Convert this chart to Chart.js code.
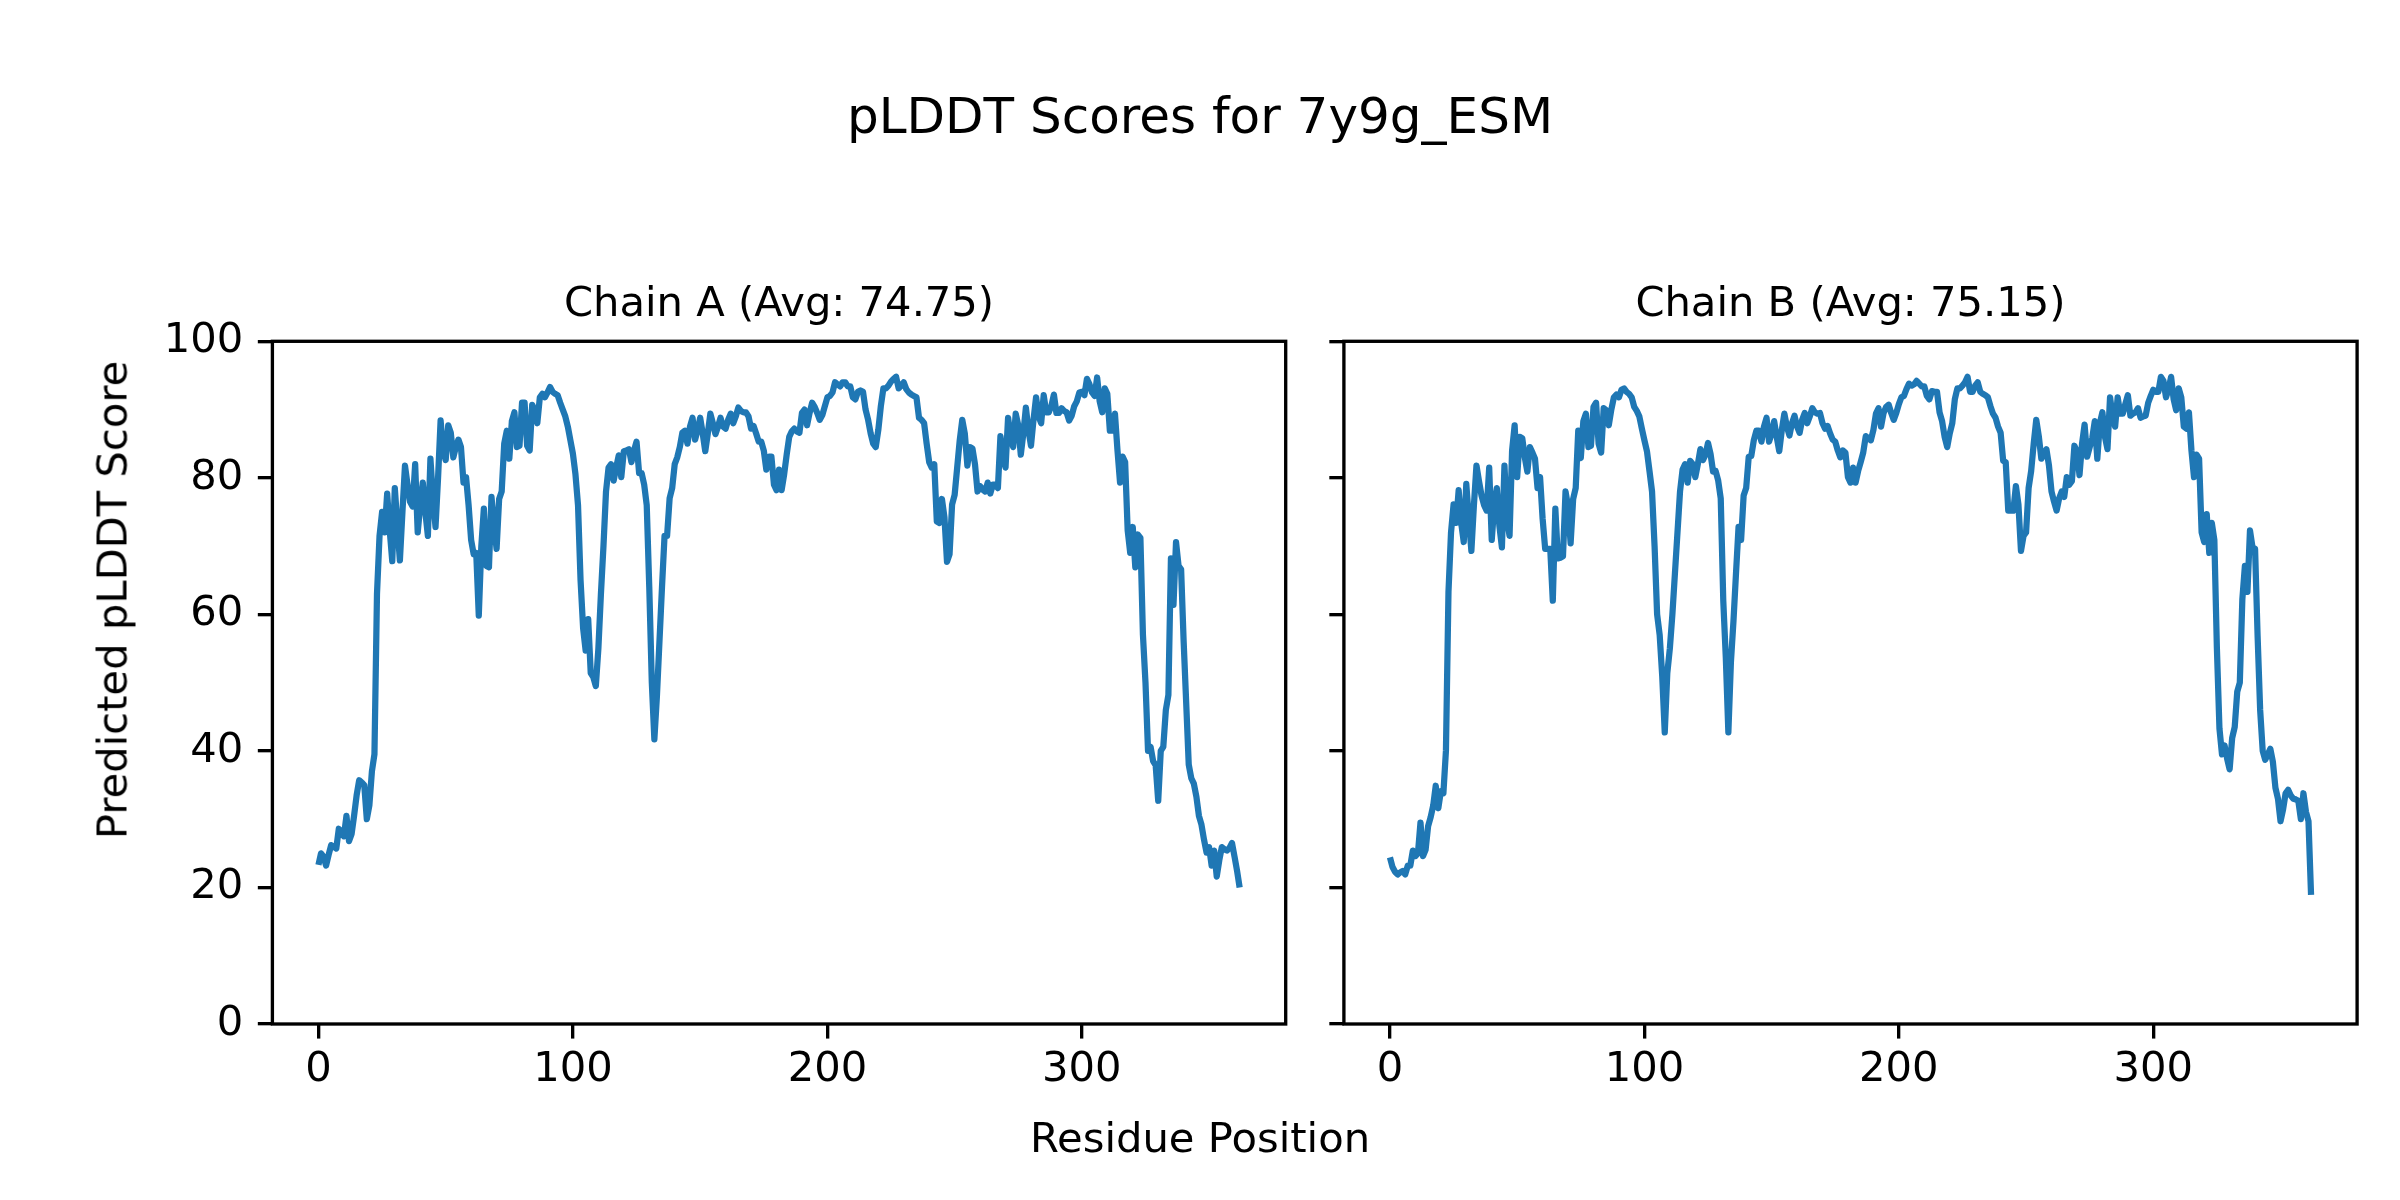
<!DOCTYPE html>
<html>
<head>
<meta charset="utf-8">
<script src="https://cdn.jsdelivr.net/npm/chart.js@4.4.1/dist/chart.umd.min.js"></script>
<style>
  html, body { margin: 0; padding: 0; background: #fff; }
  #fig { position: relative; width: 2400px; height: 1200px; overflow: hidden; font-family: "DejaVu Sans", sans-serif; color: #000; }
  #fig canvas { position: absolute; left: 0; top: 0; }
  .txt { position: absolute; white-space: nowrap; transform: translate(-50%, -50%); }
</style>
</head>
<body>
<div id="fig">
  <canvas id="chartA" width="2400" height="1200"></canvas>
  <canvas id="chartB" width="2400" height="1200"></canvas>
  <div class="txt" style="left:1200px;top:116px;font-size:50px;">pLDDT Scores for 7y9g_ESM</div>
  <div class="txt" style="left:1200px;top:1137px;font-size:41.7px;">Residue Position</div>
  <div class="txt" style="left:112px;top:600px;font-size:41.7px;transform:translate(-50%,-50%) rotate(-90deg);">Predicted pLDDT Score</div>
</div>
<script>
// values, one per residue (0..362)
const chainNames = ['Chain A', 'Chain B'];
const chainAverages = ['74.75', '75.15'];
const xTicks = [0, 100, 200, 300];
const yTicks = [0, 20, 40, 60, 80, 100];

const chainAScores = [
  23.3, 25.0, 24.5, 23.2, 24.8, 26.2, 26.0, 25.7, 28.6, 28.1,
  27.5, 30.5, 26.8, 27.8, 30.5, 33.5, 35.7, 35.4, 35.0, 30.0,
  32.0, 37.0, 39.5, 63.0, 71.5, 75.0, 72.0, 77.7, 72.3, 67.8,
  78.5, 73.1, 67.9, 75.0, 81.8, 79.0, 76.5, 75.8, 82.0, 72.0,
  76.0, 79.3, 75.0, 71.5, 82.8, 77.0, 72.8, 80.0, 88.4, 84.0,
  82.6, 87.7, 86.6, 83.0, 84.5, 85.6, 84.5, 79.3, 80.1, 76.0,
  70.9, 68.8, 69.0, 59.8, 70.0, 75.5, 67.1, 66.9, 77.2, 73.0,
  69.6, 76.9, 78.0, 85.0, 86.9, 82.8, 88.3, 89.6, 84.5, 84.7,
  91.0, 91.0, 84.7, 84.0, 90.7, 89.9, 88.0, 91.8, 92.3, 91.8,
  92.5, 93.3, 92.6, 92.3, 92.1, 91.0, 90.0, 89.0, 87.5, 85.5,
  83.5, 80.5, 76.0, 65.0, 58.0, 54.7, 59.3, 51.4, 50.8, 49.5,
  55.0, 63.0, 70.0, 78.0, 81.5, 82.0, 79.6, 81.5, 83.3, 80.1,
  83.9, 84.0, 84.2, 82.3, 84.0, 85.3, 80.7, 80.7, 79.0, 76.0,
  64.0, 50.0, 41.7, 48.0, 56.0, 64.0, 71.5, 71.5, 77.0, 78.5,
  82.0, 83.0, 84.5, 86.6, 86.9, 85.0, 87.5, 88.8, 85.6, 87.0,
  88.8, 86.5, 83.9, 86.5, 89.4, 88.0, 86.4, 87.5, 88.8, 87.5,
  87.2, 88.5, 89.4, 88.0, 89.0, 90.3, 89.8, 89.6, 89.6, 89.0,
  87.2, 87.6, 86.5, 85.3, 85.3, 84.0, 81.2, 83.1, 83.1, 79.0,
  78.2, 81.2, 78.2, 80.5, 83.4, 86.0, 86.8, 87.2, 86.8, 86.6,
  89.5, 90.0, 87.7, 89.5, 91.0, 90.4, 89.5, 88.5, 89.2, 90.5,
  91.8, 92.0, 92.5, 94.0, 93.7, 93.4, 94.0, 94.0, 93.4, 93.4,
  91.8, 91.5, 92.6, 92.8, 92.6, 90.0, 88.5, 86.5, 85.0, 84.5,
  87.0, 90.5, 93.1, 93.1, 93.5, 94.1, 94.5, 94.8, 93.1, 93.5,
  94.0, 93.0, 92.5, 92.2, 92.0, 91.8, 88.8, 88.5, 88.0, 85.0,
  82.3, 81.5, 82.0, 73.6, 73.4, 76.9, 74.2, 67.7, 68.8, 76.1,
  77.5, 81.5, 85.5, 88.5, 86.5, 81.8, 84.5, 84.3, 82.0, 78.0,
  78.8, 78.3, 78.0, 79.3, 77.7, 79.0, 79.0, 78.5, 86.1, 83.0,
  81.5, 88.8, 86.0, 84.5, 89.4, 87.7, 83.4, 86.5, 90.3, 87.0,
  84.7, 88.5, 91.8, 89.0, 88.0, 92.1, 89.6, 89.6, 90.5, 92.2,
  89.5, 89.5, 90.2, 89.8, 89.6, 88.4, 89.1, 90.5, 91.2, 92.5,
  92.6, 92.1, 94.5, 93.7, 92.5, 92.0, 94.7, 91.2, 89.6, 93.1,
  92.3, 86.9, 86.9, 89.4, 84.0, 79.3, 83.1, 82.3, 72.3, 69.0,
  72.8, 66.9, 71.7, 71.2, 57.0, 50.0, 40.0, 40.6, 38.5, 37.9,
  32.7, 40.0, 40.6, 46.0, 48.2, 68.2, 61.4, 70.6, 67.1, 66.6,
  56.0, 47.0, 38.0, 36.0, 35.2, 33.3, 30.5, 29.2, 27.0, 25.1,
  25.9, 23.2, 25.4, 21.6, 24.0, 25.9, 25.6, 25.4, 25.8, 26.5,
  24.5, 22.4, 20.0
];

const chainBScores = [
  24.4, 23.0, 22.3, 21.9, 22.2, 22.4, 21.9, 23.2, 23.2, 25.4,
  24.6, 25.0, 29.5, 24.6, 25.5, 29.0, 30.3, 32.0, 34.9, 31.6,
  34.1, 33.8, 40.0, 63.3, 72.0, 76.1, 73.4, 78.2, 73.4, 70.6,
  79.1, 74.0, 69.3, 76.0, 81.8, 79.5, 77.4, 76.0, 75.2, 81.5,
  70.9, 76.0, 78.5, 73.0, 69.8, 81.8, 74.0, 71.5, 84.0, 87.7,
  80.1, 86.0, 85.8, 83.0, 80.9, 84.5, 83.7, 82.8, 78.5, 80.1,
  74.0, 69.6, 69.6, 69.6, 62.0, 75.5, 68.2, 68.3, 68.5, 78.0,
  75.8, 70.4, 76.9, 78.5, 86.9, 82.9, 88.3, 89.4, 84.5, 84.7,
  90.4, 91.0, 85.0, 83.7, 90.2, 89.9, 87.7, 90.0, 91.8, 92.2,
  91.8, 92.9, 93.1, 92.6, 92.3, 91.8, 90.4, 89.8, 89.0, 87.2,
  85.5, 83.9, 81.0, 78.0, 70.0, 60.0, 57.0, 51.0, 42.7, 51.4,
  55.0, 60.0, 66.0, 72.0, 78.0, 81.2, 82.0, 79.3, 82.5, 82.0,
  80.1, 82.0, 84.2, 82.6, 83.4, 85.1, 83.5, 80.9, 81.0, 79.6,
  77.0, 62.0, 53.6, 42.7, 53.0, 59.0, 66.0, 72.8, 70.9, 77.4,
  78.5, 83.1, 83.2, 85.5, 86.9, 86.9, 85.3, 87.5, 88.8, 85.3,
  86.5, 88.3, 86.0, 83.9, 87.0, 89.4, 87.5, 86.2, 88.0, 89.1,
  87.5, 86.6, 88.5, 89.5, 88.0, 89.0, 90.2, 89.6, 89.4, 89.5,
  88.0, 87.2, 87.6, 86.5, 85.6, 85.3, 84.0, 83.0, 84.0, 83.7,
  80.1, 79.3, 81.5, 79.3, 81.0, 82.3, 83.7, 86.1, 85.8, 85.5,
  87.0, 89.4, 90.2, 87.5, 89.5, 90.4, 90.7, 89.5, 88.5, 89.5,
  90.8, 91.8, 92.0, 93.0, 93.8, 93.5, 93.7, 94.2, 93.8, 93.4,
  93.4, 92.0, 91.5, 92.7, 92.6, 92.6, 89.6, 88.3, 86.0, 84.5,
  86.5, 88.0, 91.5, 93.1, 93.1, 93.5, 94.0, 94.8, 92.6, 92.6,
  93.5, 94.0, 92.6, 92.3, 92.1, 91.8, 90.5, 89.4, 88.8, 87.5,
  86.6, 82.5, 82.3, 75.2, 75.2, 75.2, 78.8, 76.1, 69.3, 71.5,
  72.0, 78.5, 81.0, 85.0, 88.5, 86.1, 82.8, 83.5, 84.2, 81.8,
  78.0, 76.5, 75.2, 77.0, 78.0, 77.2, 80.1, 79.0, 79.5, 84.7,
  83.9, 80.4, 85.0, 87.8, 83.1, 84.5, 85.8, 88.3, 82.8, 88.0,
  89.6, 86.0, 84.2, 91.8, 89.0, 87.5, 91.8, 89.4, 89.4, 90.8,
  92.1, 89.1, 89.4, 89.6, 90.2, 88.8, 89.0, 89.1, 91.0, 92.0,
  92.9, 92.6, 92.6, 94.8, 94.2, 91.8, 93.0, 94.8, 91.5, 89.9,
  93.1, 91.8, 87.5, 87.2, 89.6, 84.0, 80.1, 83.4, 82.8, 72.0,
  70.6, 74.7, 69.0, 73.4, 70.9, 55.0, 43.3, 39.5, 40.8, 38.9,
  37.3, 41.9, 43.5, 48.7, 50.0, 62.2, 67.1, 63.3, 72.3, 69.8,
  69.6, 56.8, 46.0, 40.0, 38.7, 39.5, 40.3, 38.4, 34.6, 33.0,
  29.7, 31.4, 33.8, 34.3, 33.5, 33.0, 32.9, 32.7, 30.0, 33.8,
  31.1, 29.7, 18.9
];

const PT = 300 / 72;          // figure was 300 dpi
const Y_AXIS_W = 150;
const X_AXIS_H = 110;
const PLOT_TOP = 341.3;
const PLOT_BOTTOM = 1024;
const TITLE_SIZE = 10 * PT;
const TICK_SIZE = 10 * PT;
const TITLE_GAP = 11.5;

const framePlugin = {
    id: 'frame',
    afterDatasetsDraw(chart) {
        const {ctx, chartArea: a} = chart;
        ctx.save();
        ctx.strokeStyle = '#000';
        ctx.lineWidth = 0.8 * PT;
        ctx.strokeRect(a.left, a.top, a.right - a.left, a.bottom - a.top);
        ctx.restore();
    }
};

function tickGrid() {
    return {
        display: true,
        drawOnChartArea: false,
        drawTicks: true,
        tickLength: 3.5 * PT,
        tickWidth: 0.8 * PT,
        tickColor: '#000',
        color: '#000',
        lineWidth: 0.8 * PT
    };
}

function buildChart(id, idx, scores, left, right, showYLabels) {
    const ctx = document.getElementById(id).getContext('2d');
    const titleLine = TITLE_SIZE * 1.2;
    const titleTop = PLOT_TOP - titleLine - TITLE_GAP;
    return new Chart(ctx, {
        type: 'line',
        data: {
            datasets: [{
                data: scores.map((v, i) => ({x: i, y: v})),
                borderColor: '#1f77b4',
                borderWidth: 1.5 * PT,
                borderJoinStyle: 'round',
                borderCapStyle: 'butt',
                pointRadius: 0,
                tension: 0,
                fill: false
            }]
        },
        options: {
            responsive: false,
            animation: false,
            devicePixelRatio: 1,
            layout: {
                padding: {
                    left: left - Y_AXIS_W,
                    right: 2400 - right,
                    top: titleTop,
                    bottom: 1200 - PLOT_BOTTOM - X_AXIS_H
                }
            },
            plugins: {
                legend: {display: false},
                tooltip: {enabled: false},
                title: {
                    display: true,
                    fullSize: false,
                    text: `${chainNames[idx]} (Avg: ${chainAverages[idx]})`,
                    color: '#000',
                    font: {family: 'DejaVu Sans', size: TITLE_SIZE, weight: 'normal', lineHeight: 1.2},
                    padding: {top: 0, bottom: TITLE_GAP}
                }
            },
            scales: {
                x: {
                    type: 'linear',
                    min: -18.1,
                    max: 380.1,
                    afterBuildTicks: s => { s.ticks = xTicks.map(v => ({value: v})); },
                    afterFit: s => { s.height = X_AXIS_H; },
                    grid: tickGrid(),
                    border: {display: false},
                    ticks: {
                        color: '#000',
                        padding: 7,
                        maxRotation: 0,
                        font: {family: 'DejaVu Sans', size: TICK_SIZE}
                    }
                },
                y: {
                    type: 'linear',
                    min: 0,
                    max: 100,
                    afterBuildTicks: s => { s.ticks = yTicks.map(v => ({value: v})); },
                    afterFit: s => { s.width = Y_AXIS_W; },
                    grid: tickGrid(),
                    border: {display: false},
                    ticks: {
                        display: showYLabels,
                        color: '#000',
                        padding: 3.5 * PT,
                        font: {family: 'DejaVu Sans', size: TICK_SIZE}
                    }
                }
            }
        },
        plugins: [framePlugin]
    });
}

buildChart('chartA', 0, chainAScores, 272.4, 1285.7, true);
buildChart('chartB', 1, chainBScores, 1343.9, 2357.1, false);
</script>
</body>
</html>
